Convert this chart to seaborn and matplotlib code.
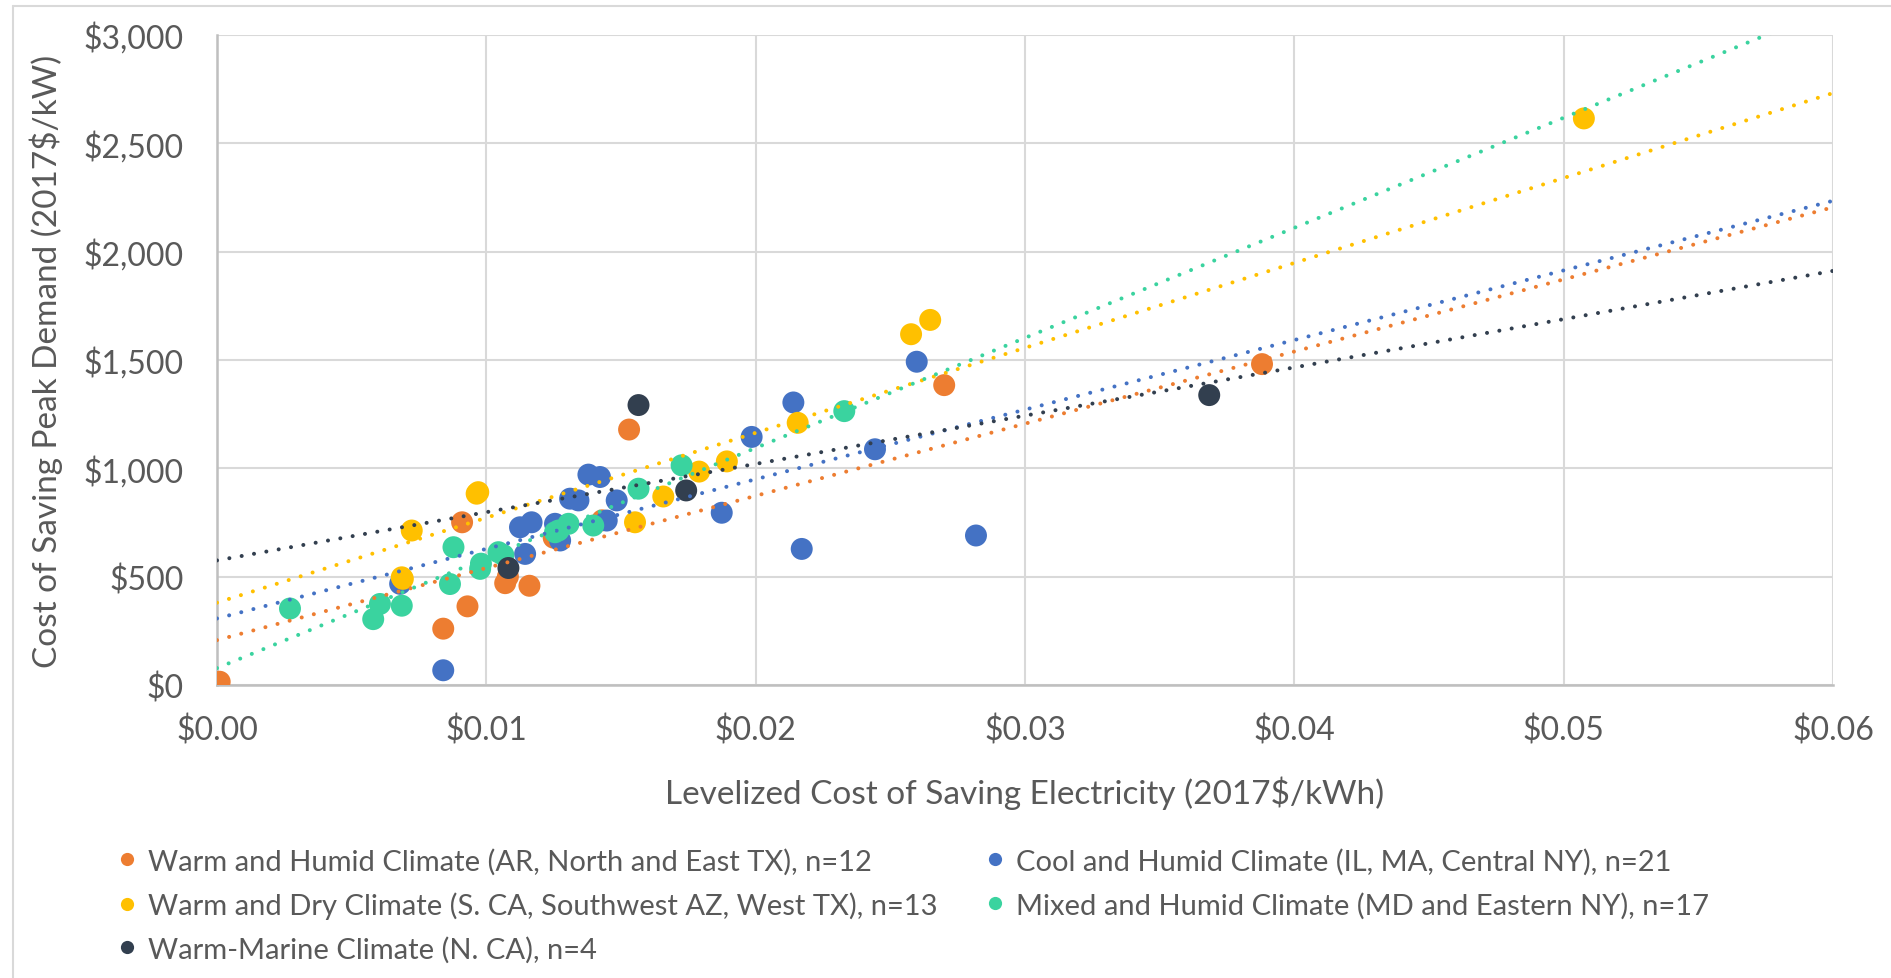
import numpy as np
import pandas as pd
import matplotlib
matplotlib.use("Agg")
import matplotlib.pyplot as plt
from matplotlib.lines import Line2D
from matplotlib.ticker import FuncFormatter, MultipleLocator
import seaborn as sns

# --- data ---
climates = [
    "Warm and Humid Climate (AR, North and East TX), n=12",
    "Cool and Humid Climate (IL, MA, Central NY), n=21",
    "Warm and Dry Climate (S. CA, Southwest AZ, West TX), n=13",
    "Mixed and Humid Climate (MD and Eastern NY), n=17",
    "Warm-Marine Climate (N. CA), n=4",
]
colors = ["#ED7D31", "#4472C4", "#FFC000", "#3AD39F", "#323F4F"]

warm_humid_x = [0.0001, 0.0084, 0.0093, 0.0091, 0.0107, 0.0116, 0.0108, 0.0125, 0.0143, 0.0153, 0.0270, 0.0388]
warm_humid_y = [15, 260, 363, 751, 470, 458, 500, 680, 760, 1179, 1384, 1481]

cool_humid_x = [0.0084, 0.0068, 0.01125, 0.01168, 0.01144, 0.01261, 0.01274, 0.01311, 0.01342, 0.01379, 0.01422,
                0.01447, 0.01484, 0.01874, 0.01985, 0.0214, 0.02171, 0.02443, 0.02598, 0.02818, 0.01255]
cool_humid_y = [68, 467, 728, 751, 605, 721, 667, 860, 852, 971, 960,
                759, 852, 795, 1145, 1304, 628, 1088, 1492, 690, 744]

warm_dry_x = [0.00686, 0.0069, 0.00723, 0.00964, 0.0097, 0.01552, 0.01657, 0.0179, 0.01893, 0.02156, 0.02577, 0.02648, 0.05075]
warm_dry_y = [497, 490, 713, 883, 890, 751, 870, 985, 1032, 1210, 1619, 1685, 2615]

mixed_humid_x = [0.00271, 0.0058, 0.00605, 0.00686, 0.00865, 0.00878, 0.00977, 0.0098, 0.01045, 0.01063, 0.01255,
                 0.01268, 0.01305, 0.01397, 0.01565, 0.01725, 0.02329]
mixed_humid_y = [353, 304, 374, 366, 466, 636, 536, 560, 613, 600, 705,
                 713, 744, 736, 906, 1014, 1264]

warm_marine_x = [0.01082, 0.01565, 0.01742, 0.03684]
warm_marine_y = [540, 1292, 898, 1338]

# linear trendlines as shown on the chart (intercept, slope)
trend_intercept = [207, 307, 380, 78, 575]
trend_slope = [33300, 32130, 39200, 50800, 22270]

xs = [warm_humid_x, cool_humid_x, warm_dry_x, mixed_humid_x, warm_marine_x]
ys = [warm_humid_y, cool_humid_y, warm_dry_y, mixed_humid_y, warm_marine_y]
df = pd.concat([pd.DataFrame({"lcse": x, "cost": y, "climate": c}) for x, y, c in zip(xs, ys, climates)],
               ignore_index=True)

# --- style ---
sns.set_theme(style="white")
plt.rcParams["font.family"] = ["Lato", "DejaVu Sans"]
text_color = "#595959"
grid_color = "#d9d9d9"

fig = plt.figure(figsize=(18.91, 9.79), dpi=100)
W, H = 1891, 979
ax = fig.add_axes([217 / W, 1 - 686 / H, (1833 - 217) / W, (686 - 36) / H])

sns.scatterplot(data=df, x="lcse", y="cost", hue="climate", hue_order=climates,
                palette=dict(zip(climates, colors)), s=250, linewidth=0, alpha=1,
                legend=False, ax=ax, zorder=3)

ax.set_xlim(0, 0.06)
ax.set_ylim(0, 3000)
line_x = np.array([0, 0.06])
for b, m, c in zip(trend_intercept, trend_slope, colors):
    ax.plot(line_x, b + m * line_x, color=c, lw=2.9, linestyle=(0, (0.01, 3.1)),
            dash_capstyle="round", zorder=4, clip_on=True)

ax.xaxis.set_major_locator(MultipleLocator(0.01))
ax.yaxis.set_major_locator(MultipleLocator(500))
ax.xaxis.set_major_formatter(FuncFormatter(lambda v, p: f"${v:.2f}"))
ax.yaxis.set_major_formatter(FuncFormatter(lambda v, p: f"${v:,.0f}"))
ax.tick_params(axis="x", length=0, pad=21, labelsize=23, labelcolor=text_color)
ax.tick_params(axis="y", length=0, pad=24, labelsize=23, labelcolor=text_color)

ax.grid(True, color=grid_color, lw=1.5, zorder=0)
ax.set_axisbelow(True)
for side in ["top", "right"]:
    ax.spines[side].set_visible(False)
for side in ["left", "bottom"]:
    ax.spines[side].set_color("#bfbfbf")
    ax.spines[side].set_linewidth(1.8)

ax.set_xlabel("Levelized Cost of Saving Electricity (2017$/kWh)", fontsize=24, color=text_color)
ax.set_ylabel("Cost of Saving Peak Demand (2017$/kW)", fontsize=24, color=text_color)
ax.xaxis.label.set_va("center")
ax.yaxis.label.set_va("center")
ax.xaxis.set_label_coords(0.5, (686 - 793) / 650)
ax.yaxis.set_label_coords((46 - 217) / 1616, 0.5)

# legend laid out in two columns, row-wise like the original
handles = [Line2D([], [], marker="o", linestyle="", markersize=9.5, markeredgewidth=0, color=c)
           for c in colors]
leg_kw = dict(frameon=False, fontsize=21, labelcolor=text_color, handlelength=0.5,
              handletextpad=0.45, labelspacing=0.58, borderpad=0, borderaxespad=0, loc="center left")
fig.legend([handles[0], handles[2], handles[4]], [climates[0], climates[2], climates[4]],
           bbox_to_anchor=(120 / W, 1 - 906 / H), **leg_kw)
fig.legend([handles[1], handles[3]], [climates[1], climates[3]],
           bbox_to_anchor=(988 / W, 1 - 884 / H), **leg_kw)

# chart frame (only top and left edges visible in the crop)
fig.add_artist(Line2D([12.7 / W, 12.7 / W], [0, 1 - 6.7 / H], color=grid_color, lw=1.5))
fig.add_artist(Line2D([12.7 / W, 1], [1 - 6.7 / H, 1 - 6.7 / H], color=grid_color, lw=1.5))

fig.savefig("out.png", dpi=100)
